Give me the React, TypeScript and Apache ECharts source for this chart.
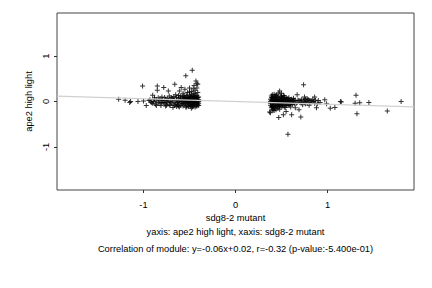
import React, { useEffect, useRef } from "react";
import * as echarts from "echarts";

const xTicks = [-1, 0, 1];
const yTicks = [-1, 0, 1];
const xTitle = "sdg8-2 mutant";
const yTitle = "ape2 high light";
const subtitle1 = "yaxis: ape2 high light, xaxis: sdg8-2 mutant";
const subtitle2 = "Correlation of module: y=-0.06x+0.02, r=-0.32 (p-value:-5.400e-01)";

const leftPoints: number[][] = [
  [-1.27, 0.05], [-1.2, 0.03], [-1.15, -0.02], [-1.14, 0.0], [-1.06, 0.0], [-1.01, 0.34], [-1.0, 0.01],
  [-0.97, -0.09], [-0.94, 0.02], [-0.92, -0.01], [-0.9, 0.14], [-0.88, 0.05], [-0.85, 0.34], [-0.85, 0.25],
  [-0.84, 0.08], [-0.82, -0.05], [-0.8, 0.1], [-0.78, 0.31], [-0.76, 0.05], [-0.75, -0.08], [-0.73, 0.23],
  [-0.72, 0.12], [-0.7, -0.03], [-0.68, -0.13], [-0.66, 0.38], [-0.65, 0.15], [-0.64, 0.04], [-0.62, -0.1],
  [-0.61, 0.23], [-0.6, 0.08], [-0.59, 0.31], [-0.58, -0.05], [-0.57, 0.18], [-0.56, 0.02], [-0.55, 0.27],
  [-0.54, 0.57], [-0.54, -0.12], [-0.53, 0.1], [-0.52, 0.2], [-0.51, -0.02], [-0.5, 0.14], [-0.5, 0.3],
  [-0.49, 0.05], [-0.48, -0.15], [-0.48, 0.22], [-0.47, 0.69], [-0.47, 0.1], [-0.46, -0.06], [-0.46, 0.28],
  [-0.45, 0.35], [-0.45, 0.02], [-0.44, 0.18], [-0.43, 0.45], [-0.43, -0.1], [-0.42, 0.4], [-0.42, 0.08],
  [-0.41, 0.38], [-0.41, -0.03], [-0.41, 0.2], [-0.4, 0.0],
  [-0.93, 0.04], [-0.91, -0.03], [-0.89, 0.0], [-0.87, -0.06], [-0.86, 0.03], [-0.83, 0.01], [-0.81, -0.09],
  [-0.79, 0.02], [-0.77, -0.04], [-0.74, 0.06], [-0.71, 0.0], [-0.69, 0.07], [-0.67, -0.06], [-0.63, -0.02],
  [-0.62, 0.06], [-0.6, -0.08], [-0.59, 0.0], [-0.58, 0.11], [-0.57, -0.1], [-0.56, 0.07], [-0.55, -0.04],
  [-0.54, 0.04], [-0.53, -0.08], [-0.52, 0.0], [-0.52, 0.09], [-0.51, -0.11], [-0.5, 0.03], [-0.49, -0.06],
  [-0.49, 0.11], [-0.48, 0.0], [-0.47, -0.09], [-0.47, 0.04], [-0.46, 0.12], [-0.45, -0.03], [-0.44, 0.06],
  [-0.44, -0.12], [-0.43, 0.01], [-0.43, 0.14], [-0.42, -0.06], [-0.41, 0.05], [-0.4, -0.09], [-0.4, 0.1],
  [-0.66, 0.02], [-0.64, -0.11], [-0.72, -0.07], [-0.75, 0.01], [-0.78, -0.02], [-0.8, 0.04], [-0.84, -0.02],
  [-0.7, 0.09], [-0.65, -0.04], [-0.61, 0.02], [-0.57, 0.05], [-0.55, 0.09], [-0.53, 0.03], [-0.51, 0.06],
  [-0.46, 0.0], [-0.45, 0.08], [-0.42, 0.02], [-0.44, -0.04],
  [-0.9, -0.04], [-0.88, 0.08], [-0.86, -0.09], [-0.82, 0.06], [-0.8, -0.02], [-0.77, 0.09], [-0.76, -0.1],
  [-0.74, -0.03], [-0.73, 0.03], [-0.71, -0.09], [-0.69, -0.01], [-0.68, 0.05], [-0.67, 0.11], [-0.66, -0.09],
  [-0.64, 0.09], [-0.63, -0.07], [-0.62, 0.0], [-0.61, -0.12], [-0.6, 0.04], [-0.59, -0.04], [-0.58, 0.02],
  [-0.57, -0.01], [-0.56, -0.07], [-0.56, 0.1], [-0.55, 0.0], [-0.54, -0.03], [-0.54, 0.07], [-0.53, -0.12],
  [-0.52, -0.04], [-0.52, 0.05], [-0.51, 0.01], [-0.5, -0.07], [-0.5, 0.07], [-0.49, -0.1], [-0.49, 0.01],
  [-0.48, 0.08], [-0.48, -0.03], [-0.47, -0.12], [-0.47, 0.0], [-0.46, 0.05], [-0.46, -0.1], [-0.45, 0.11],
  [-0.45, -0.07], [-0.44, 0.02], [-0.44, 0.1], [-0.43, -0.03], [-0.43, 0.05], [-0.42, -0.1], [-0.42, 0.12],
  [-0.41, -0.07], [-0.41, 0.09], [-0.4, 0.04], [-0.4, -0.04], [-0.6, 0.12], [-0.53, 0.14], [-0.48, 0.15],
  [-0.46, 0.17], [-0.5, 0.21], [-0.44, 0.25], [-0.42, 0.3], [-0.56, 0.14], [-0.62, 0.13],
];

const rightPoints: number[][] = [
  [0.37, -0.23], [0.38, -0.25], [0.4, 0.15], [0.42, -0.2], [0.44, 0.12], [0.46, -0.15], [0.47, -0.35],
  [0.48, 0.23], [0.5, 0.18], [0.52, -0.29], [0.53, 0.12], [0.55, -0.22], [0.57, -0.72], [0.58, 0.08],
  [0.6, -0.12], [0.61, -0.29], [0.63, 0.07], [0.65, -0.14], [0.67, 0.15], [0.69, -0.18], [0.71, -0.34],
  [0.72, 0.05], [0.74, 0.37], [0.75, 0.1], [0.76, -0.05], [0.78, 0.06], [0.8, -0.08], [0.82, 0.02],
  [0.85, 0.0], [0.86, 0.1], [0.88, -0.14], [0.9, 0.02], [0.92, -0.02], [0.97, 0.04], [0.99, -0.05],
  [1.03, -0.15], [1.08, -0.13], [1.14, 0.0], [1.15, -0.01], [1.3, -0.04], [1.31, 0.14], [1.32, -0.27],
  [1.35, -0.03], [1.45, -0.02], [1.65, -0.21], [1.8, 0.0],
  [0.38, 0.0], [0.38, -0.08], [0.39, 0.08], [0.39, -0.14], [0.4, 0.03], [0.4, -0.05], [0.41, 0.1],
  [0.41, -0.11], [0.42, 0.01], [0.42, -0.03], [0.43, 0.06], [0.43, -0.09], [0.44, -0.01], [0.44, 0.14],
  [0.45, 0.04], [0.45, -0.07], [0.46, 0.09], [0.46, -0.02], [0.47, 0.0], [0.47, -0.12], [0.48, 0.05],
  [0.48, -0.06], [0.49, 0.11], [0.49, -0.03], [0.5, 0.02], [0.5, -0.1], [0.51, 0.07], [0.51, -0.05],
  [0.52, 0.0], [0.52, 0.13], [0.53, -0.07], [0.54, 0.04], [0.54, -0.13], [0.55, 0.09], [0.55, -0.02],
  [0.56, 0.01], [0.57, -0.05], [0.57, 0.06], [0.58, -0.09], [0.59, 0.03], [0.6, -0.01], [0.61, 0.05],
  [0.62, -0.06], [0.63, -0.02], [0.64, 0.02], [0.66, -0.04], [0.68, 0.03], [0.7, -0.02], [0.71, 0.01],
  [0.73, -0.07], [0.74, 0.03], [0.77, 0.0], [0.79, 0.04], [0.81, -0.03], [0.83, -0.01], [0.87, 0.03],
  [0.89, -0.05], [0.41, 0.05], [0.43, -0.15], [0.45, 0.0], [0.4, -0.18], [0.39, 0.12], [0.42, 0.16],
  [0.48, -0.17], [0.53, 0.01], [0.56, -0.09], [0.5, 0.08],
  [0.38, 0.05], [0.38, -0.04], [0.39, -0.1], [0.39, 0.02], [0.4, 0.09], [0.4, -0.12], [0.41, -0.02],
  [0.41, -0.07], [0.42, 0.07], [0.42, -0.13], [0.43, 0.0], [0.43, 0.11], [0.44, -0.05], [0.44, 0.04],
  [0.45, -0.11], [0.45, 0.08], [0.46, 0.02], [0.46, -0.08], [0.47, 0.06], [0.47, -0.04], [0.48, 0.0],
  [0.48, -0.1], [0.49, 0.04], [0.49, -0.08], [0.5, -0.03], [0.5, 0.12], [0.51, 0.01], [0.51, -0.1],
  [0.52, -0.04], [0.52, 0.06], [0.53, -0.12], [0.53, 0.08], [0.54, -0.02], [0.55, 0.04], [0.55, -0.08],
  [0.56, -0.04], [0.56, 0.06], [0.57, 0.0], [0.58, 0.02], [0.58, -0.04], [0.59, -0.07], [0.6, 0.04],
  [0.6, -0.05], [0.61, -0.02], [0.62, 0.02], [0.63, 0.01], [0.64, -0.05], [0.65, 0.03], [0.67, -0.02],
  [0.69, 0.02], [0.72, -0.03], [0.75, -0.01], [0.76, 0.05], [0.78, -0.04], [0.8, 0.03], [0.84, 0.05],
  [0.86, -0.04], [0.45, 0.15], [0.47, 0.19], [0.41, -0.19], [0.44, -0.18],
];

const fitLine: number[][] = [[-1.94, 0.12], [1.94, -0.12]];

const xRange = [-1.94, 1.94];
const yRange = [-1.95, 1.95];

const FONT = "Liberation Sans, Arial, sans-serif";
const plusSymbol = "path://M2.4,0H3.6V2.4H6V3.6H3.6V6H2.4V3.6H0V2.4H2.4Z";

export default function App() {
  const ref = useRef<HTMLDivElement>(null);
  useEffect(() => {
    if (!ref.current) return;
    const chart = echarts.init(ref.current, undefined, { renderer: "svg" });
    const gridLeft = 57, gridRight = 18, gridTop = 13, gridBottom = 98;
    const cx = gridLeft + (432 - gridLeft - gridRight) / 2;
    chart.setOption({
      animation: false,
      backgroundColor: "#fff",
      textStyle: { fontFamily: FONT },
      grid: {
        left: gridLeft, right: gridRight, top: gridTop, bottom: gridBottom,
        show: true, borderColor: "#444", borderWidth: 1, backgroundColor: "transparent",
      },
      xAxis: {
        type: "value", min: xRange[0], max: xRange[1],
        name: xTitle, nameLocation: "middle", nameGap: 22,
        nameTextStyle: { fontSize: 9.3, color: "#000", fontFamily: FONT },
        axisLine: { show: false, onZero: false },
        axisTick: { show: true, length: 3, customValues: xTicks, lineStyle: { color: "#333" } },
        axisLabel: { customValues: xTicks, fontSize: 9.3, color: "#000", margin: 10, fontFamily: FONT },
        splitLine: { show: false },
      },
      yAxis: {
        type: "value", min: yRange[0], max: yRange[1],
        name: yTitle, nameLocation: "middle", nameGap: 18, nameRotate: 90,
        nameTextStyle: { fontSize: 9.3, color: "#000", fontFamily: FONT },
        axisLine: { show: false, onZero: false },
        axisTick: { show: true, length: 3, customValues: yTicks, lineStyle: { color: "#333" } },
        axisLabel: { customValues: yTicks, fontSize: 9.3, color: "#000", margin: 7, rotate: 90, fontFamily: FONT },
        splitLine: { show: false },
      },
      series: [
        {
          type: "scatter", data: leftPoints, symbol: plusSymbol, symbolSize: 5,
          itemStyle: { color: "#000" }, z: 2,
        },
        {
          type: "scatter", data: rightPoints, symbol: plusSymbol, symbolSize: 5,
          itemStyle: { color: "#000" }, z: 2,
        },
        {
          type: "line", data: fitLine, showSymbol: false, symbol: "none",
          lineStyle: { color: "#d0d0d0", width: 1.2 }, z: 3,
        },
      ],
      graphic: [
        {
          type: "text", x: cx, y: 232,
          style: { text: subtitle1, fontSize: 9.3, fill: "#000", align: "center", verticalAlign: "middle", fontFamily: FONT },
        },
        {
          type: "text", x: cx, y: 249,
          style: { text: subtitle2, fontSize: 9.3, fill: "#000", align: "center", verticalAlign: "middle", fontFamily: FONT },
        },
      ],
    });
    return () => chart.dispose();
  }, []);
  return <div ref={ref} style={{ width: 432, height: 288, position: "absolute", left: 0, top: 0 }} />;
}
